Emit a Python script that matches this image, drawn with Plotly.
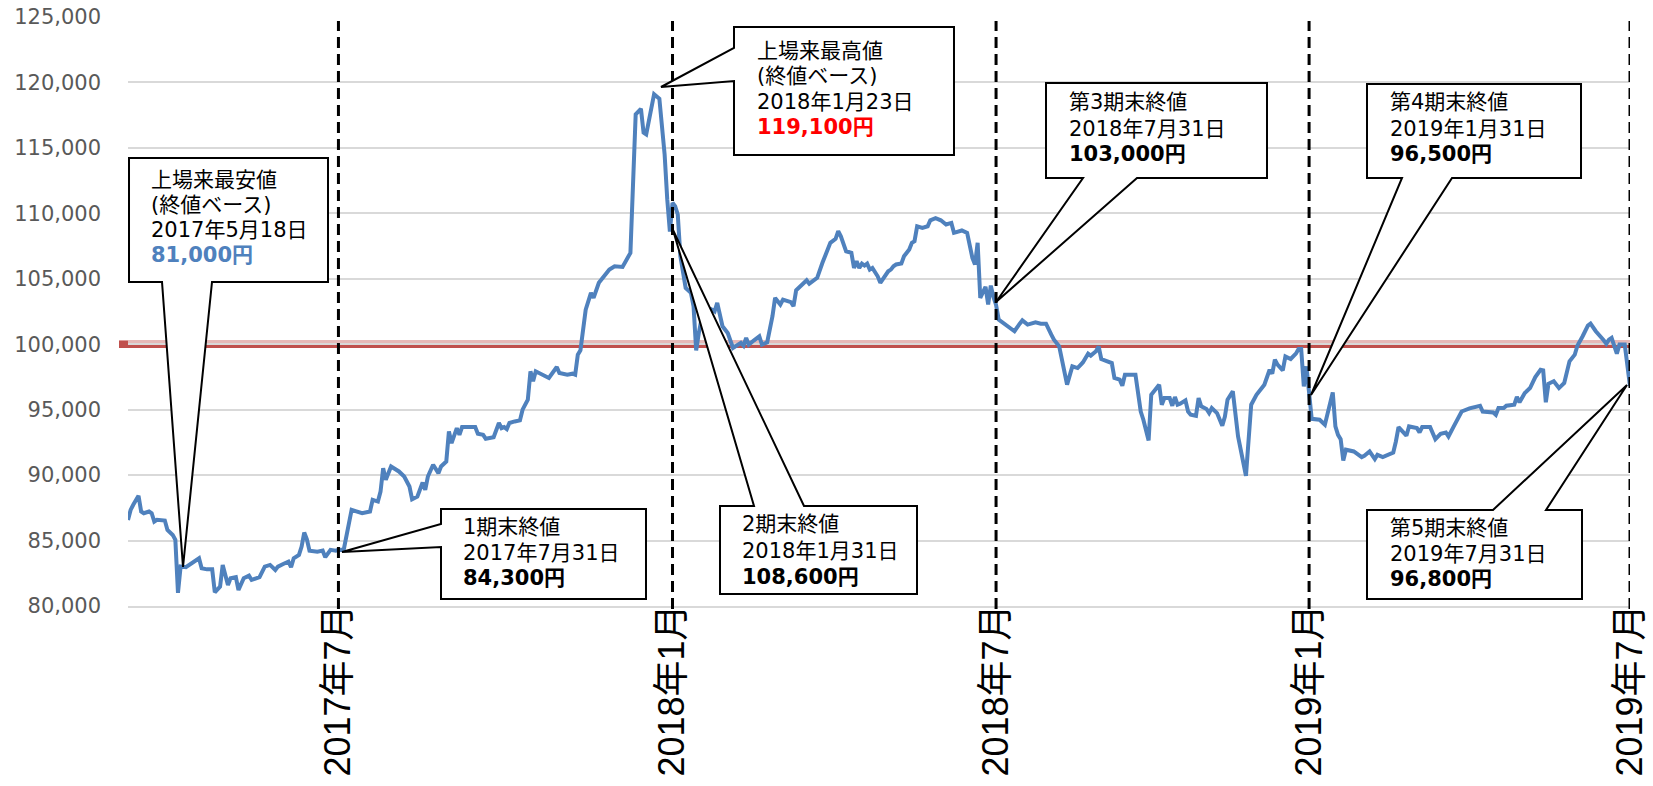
import plotly.graph_objects as go

# ---------------- data (trading-day index since listing, closing price in yen) ----------------
day_index = [
    0, 1, 2, 4, 5, 6, 8, 9, 10, 11, 14, 15, 17, 18, 19, 20, 22, 27, 28, 30, 32, 33, 35, 36, 38, 39,
    41, 42, 44, 46, 47, 50, 52, 54, 56, 57, 59, 61, 62, 63, 65, 66, 67, 68, 69, 72, 74, 75, 77, 79,
    80, 82, 85, 86, 89, 92, 93, 95, 96, 97, 98, 100, 103, 105, 107, 108, 110, 112, 113, 114, 116, 118,
    119, 121, 122, 123, 125, 126, 127, 132, 133, 135, 136, 139, 141, 142, 143, 144, 145, 147, 149, 150,
    152, 153, 154, 155, 158, 160, 163, 164, 167, 169, 170, 171, 172, 174, 176, 177, 179, 181, 183, 185,
    188, 191, 193, 195, 196, 197, 200, 202, 203, 204, 205, 206, 207, 208, 209, 210, 212, 214, 215, 216,
    217, 219, 220, 221, 222, 223, 224, 226, 228, 230, 233, 234, 235, 236, 238, 240, 241, 243, 245, 246,
    248, 249, 252, 253, 254, 257, 258, 259, 261, 262, 264, 265, 267, 269, 270, 271, 273, 275, 276, 277,
    278, 279, 280, 281, 282, 283, 285, 286, 287, 289, 290, 291, 292, 294, 295, 297, 298, 299, 300, 302,
    304, 305, 307, 309, 311, 313, 314, 317, 319, 321, 322, 323, 324, 326, 327, 328, 329, 330, 331, 333,
    337, 339, 340, 342, 345, 347, 349, 351, 352, 354, 357, 359, 361, 363, 365, 366, 368, 369, 370, 374,
    375, 377, 378, 379, 383, 385, 386, 388, 389, 392, 393, 394, 396, 397, 398, 399, 400, 402, 403, 404,
    406, 407, 408, 410, 411, 412, 414, 416, 417, 418, 420, 422, 425, 427, 429, 432, 434, 435, 436, 437,
    439, 440, 442, 444, 445, 446, 447, 448, 449, 450, 453, 455, 458, 459, 460, 461, 462, 463, 466, 469,
    470, 472, 474, 475, 477, 481, 482, 483, 486, 487, 490, 491, 492, 495, 497, 499, 501, 502, 504, 507,
    510, 514, 515, 519, 520, 521, 523, 524, 527, 528, 529, 531, 533, 535, 537, 538, 539, 540, 542, 544,
    546, 548, 550, 551, 553, 555, 556, 558, 561, 562, 563, 564, 566, 567, 569, 571,
]
close_price = [
    86580, 87340, 87730, 88420, 87220, 87090, 87220, 87090, 86450, 86580, 86530, 85810, 85430, 85050, 81000, 83010, 82960, 83650, 82880, 82800, 82800, 81050, 81480, 83140, 81610, 82120,
    82200, 81220, 82120, 82320, 81990, 82200, 83010, 83140, 82750, 83010, 83210, 83390, 82960, 83650, 83900, 84540, 85610, 85100, 84230, 84150, 84230, 83730, 84290, 84230,
    84300, 84290, 87340, 87290, 87090, 87220, 88110, 87980, 88740, 90530, 89640, 90660, 90280, 89890, 89130, 88160, 88360, 89430, 88870, 89890, 90790, 90150,
    90660, 91040, 93340, 92450, 93590, 93080, 93670, 93670, 93160, 93080, 92780, 92900, 93980, 93590, 93670, 93520, 93980, 94100, 94180, 95000,
    95760, 97930, 97170, 97930, 97670, 97420, 98260, 97800, 97670, 97750, 97670, 99200, 99530, 102640, 103920, 103540, 104690, 105190, 105700, 105960,
    105910, 106980, 117560, 117990, 116160, 116030, 119100, 118760, 116930, 114500, 111060, 108600, 110800, 110550, 109910, 106720, 104300, 103920, 102900, 99530,
    100860, 102900, 102010, 102090, 102640, 102510, 103160, 101370, 100860, 99710, 100100, 99890, 100480, 99970, 100300, 100610, 99970, 100150, 102140, 103540,
    103030, 103410, 103210, 102900, 104120, 104630, 104890, 104630, 104990, 105070, 106220, 106670, 107750, 108050, 108640, 108250, 107100, 106980, 105830, 106340,
    105830, 106160, 106010, 106160, 105700, 105830, 105190, 104690, 104990, 105570, 105700, 105960, 106090, 106160, 106720, 107230, 107750, 107870, 109010, 108890,
    109010, 109470, 109630, 109470, 109150, 109270, 108510, 108690, 108510, 106600, 106090, 107750, 103540, 104380, 103030, 104480, 103610, 103000, 101880, 101570,
    100990, 101570, 101820, 101500, 101670, 101570, 101570, 100730, 100350, 99840, 96910, 98310, 98180, 98610, 99280, 99130, 99460, 99840, 98870, 98560,
    97420, 97290, 96830, 97670, 97670, 94860, 94230, 92650, 96140, 96910, 95380, 95890, 95890, 95300, 95970, 95380, 95460, 95710, 94860, 94610,
    94530, 95890, 95250, 95050, 94740, 95120, 94740, 93770, 94480, 95760, 96400, 92950, 89950, 95380, 96140, 96910, 98050, 97750, 98820, 98440,
    98000, 99070, 98870, 99280, 99640, 99640, 96780, 98310, 96500, 94300, 94230, 93850, 96320, 93720, 93080, 92750, 91120, 91940, 91810, 91380,
    91480, 91810, 91220, 91550, 91380, 91730, 92570, 93670, 93010, 93720, 93590, 93260, 93670, 93670, 92750, 93160, 93260, 92950, 93720, 94860,
    95100, 95300, 94860, 94790, 94610, 95120, 95120, 95300, 95380, 95970, 95560, 96270, 96650, 97490, 98050, 98000, 95560, 96980, 97170, 96650,
    97040, 98690, 99200, 99890, 100610, 101420, 101570, 100990, 100300, 100040, 100350, 100480, 99280, 99970, 99970, 96800,
]
tick_index = [80, 207, 330, 449, 571]
tick_labels = ["2017年7月", "2018年1月", "2018年7月", "2019年1月", "2019年7月"]
y_ticks = list(range(80000, 125001, 5000))
offer_price = 100000

# ---------------- layout helpers (pixel -> paper) ----------------
W, H = 1653, 786
L, R, T, B = 128, 1630, 17, 606


def px(x):
    return (x - L) / (R - L)


def py(y):
    return (B - y) / (B - T)


def pt(x, y):
    return f"{px(x):.5f},{py(y):.5f}"


def callout_path(l, t, r, b, side, a1, a2, tip):
    tx, ty = tip
    if side == "bottom":
        pts = [(l, t), (r, t), (r, b), (a2, b), (tx, ty), (a1, b), (l, b)]
    elif side == "top":
        pts = [(l, t), (a1, t), (tx, ty), (a2, t), (r, t), (r, b), (l, b)]
    else:  # left
        pts = [(l, t), (r, t), (r, b), (l, b), (l, a2), (tx, ty), (l, a1)]
    return "M " + " L ".join(pt(x, y) for x, y in pts) + " Z"


TXT_FONT = "DejaVu Sans, Noto Sans CJK JP, sans-serif"
BLUE = "#4f81bd"

callouts = [
    dict(box=(129, 158, 328, 282), side="bottom", base=(162, 212), tip=(183, 567), tx=149,
         lines=[("上場来最安値", 180, False, "#000"), ("(終値ベース)", 205, False, "#000"),
                ("2017年5月18日", 230, False, "#000"), ("81,000円", 255, True, BLUE)]),
    dict(box=(734, 27, 954, 155), side="left", base=(48, 81), tip=(661, 87), tx=755,
         lines=[("上場来最高値", 51, False, "#000"), ("(終値ベース)", 76, False, "#000"),
                ("2018年1月23日", 102, False, "#000"), ("119,100円", 127, True, "#ff0000")]),
    dict(box=(441, 509, 646, 599), side="left", base=(524, 547), tip=(342, 552), tx=461,
         lines=[("1期末終値", 527, False, "#000"), ("2017年7月31日", 553, False, "#000"),
                ("84,300円", 578, True, "#000")]),
    dict(box=(720, 506, 917, 594), side="top", base=(754, 804), tip=(673, 230), tx=740,
         lines=[("2期末終値", 524, False, "#000"), ("2018年1月31日", 551, False, "#000"),
                ("108,600円", 577, True, "#000")]),
    dict(box=(1046, 83, 1267, 178), side="bottom", base=(1083, 1137), tip=(996, 302), tx=1067,
         lines=[("第3期末終値", 102, False, "#000"), ("2018年7月31日", 129, False, "#000"),
                ("103,000円", 154, True, "#000")]),
    dict(box=(1367, 84, 1581, 178), side="bottom", base=(1402, 1452), tip=(1311, 395), tx=1388,
         lines=[("第4期末終値", 102, False, "#000"), ("2019年1月31日", 129, False, "#000"),
                ("96,500円", 154, True, "#000")]),
    dict(box=(1367, 510, 1582, 599), side="top", base=(1493, 1546), tip=(1627, 385), tx=1388,
         lines=[("第5期末終値", 528, False, "#000"), ("2019年7月31日", 554, False, "#000"),
                ("96,800円", 579, True, "#000")]),
]

fig = go.Figure()
fig.add_trace(go.Scatter(
    x=day_index, y=close_price, mode="lines",
    line=dict(color=BLUE, width=4), hoverinfo="skip", showlegend=False,
))

shapes = []
# offering price reference line (100,000)
shapes.append(dict(type="line", xref="paper", yref="y", x0=px(119), x1=1.0,
                   y0=offer_price + 60, y1=offer_price + 60, line=dict(color="#e6b9b8", width=7), layer="between"))
shapes.append(dict(type="line", xref="paper", yref="y", x0=px(119), x1=1.0,
                   y0=offer_price - 110, y1=offer_price - 110, line=dict(color="#c0504d", width=4.5), layer="between"))
shapes.append(dict(type="line", xref="paper", yref="y", x0=px(119), x1=px(128),
                   y0=offer_price, y1=offer_price, line=dict(color="#c0504d", width=7), layer="between"))

# period-end dashed lines
for ti in tick_index:
    shapes.append(dict(type="line", xref="x", yref="paper", x0=ti, x1=ti, y0=py(609), y1=py(21),
                       line=dict(color="#000", width=3, dash="11px,6px"), layer="above"))

annotations = []
for c in callouts:
    l, t, r, b = c["box"]
    shapes.append(dict(type="path", xref="paper", yref="paper",
                       path=callout_path(l, t, r, b, c["side"], c["base"][0], c["base"][1], c["tip"]),
                       fillcolor="white", line=dict(color="#000", width=2), layer="above"))
    for text, yy, bold, color in c["lines"]:
        annotations.append(dict(
            xref="paper", yref="paper", x=px(c["tx"]), y=py(yy), xanchor="left", yanchor="middle",
            text=f"<b>{text}</b>" if bold else text, showarrow=False,
            font=dict(family=TXT_FONT, size=21, color=color),
        ))

fig.update_layout(
    width=W, height=H,
    margin=dict(l=L, r=W - R, t=T, b=H - B, autoexpand=False),
    plot_bgcolor="white", paper_bgcolor="white",
    shapes=shapes, annotations=annotations, showlegend=False,
    xaxis=dict(
        range=[0, 571], tickmode="array", tickvals=tick_index, ticktext=tick_labels,
        tickangle=-90, tickfont=dict(family="Liberation Sans, Noto Sans CJK JP, sans-serif", size=36, color="#000"),
        showgrid=False, zeroline=False, showline=True, linecolor="#d9d9d9", linewidth=2, ticks="",
        ticklabelstandoff=-18,
    ),
    yaxis=dict(
        range=[80000, 125000], tickmode="array", tickvals=y_ticks, tickformat=",",
        tickfont=dict(family="DejaVu Sans, sans-serif", size=21, color="#595959"),
        showgrid=True, gridcolor="#d9d9d9", gridwidth=2, zeroline=False, showline=False, ticks="",
        ticklabelstandoff=26,
    ),
)

fig.write_html("out.html")
